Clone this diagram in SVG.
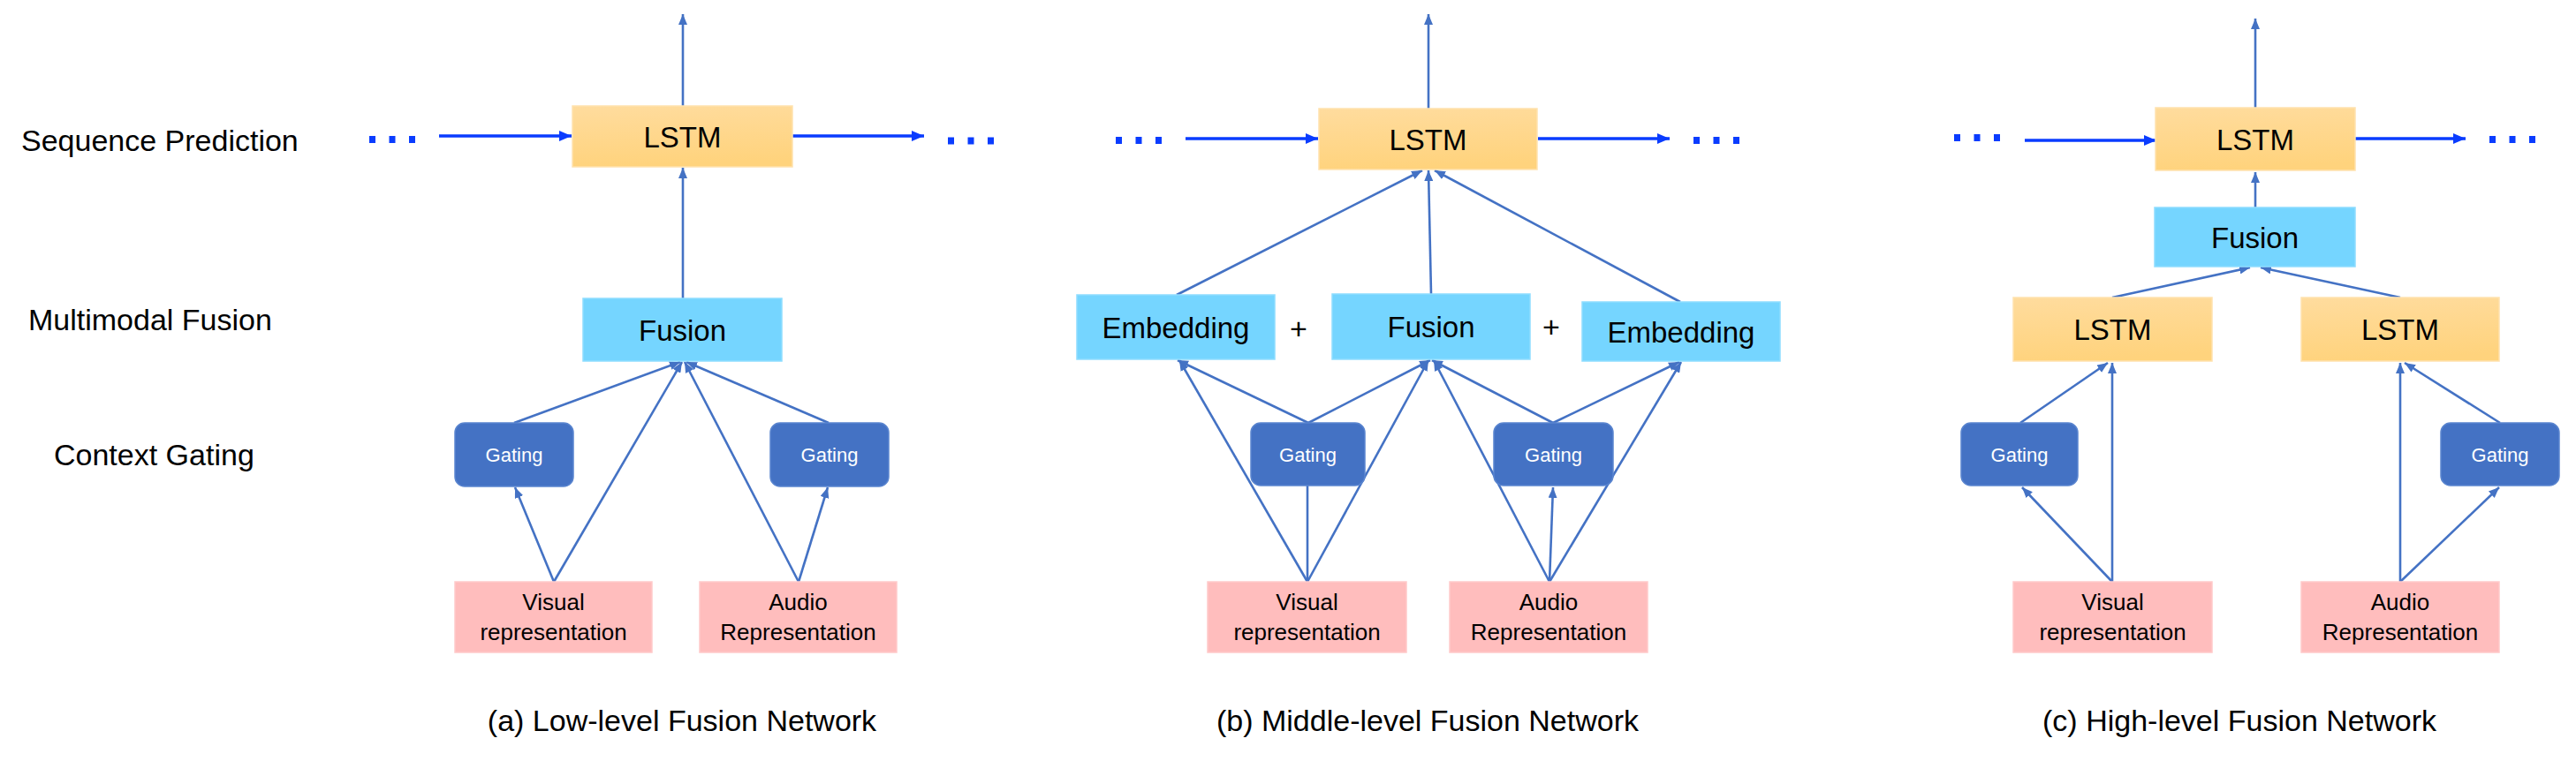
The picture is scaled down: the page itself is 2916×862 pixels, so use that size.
<svg xmlns="http://www.w3.org/2000/svg" width="2916" height="862" viewBox="0 0 2916 862">
<defs>
<linearGradient id="gl" x1="0" y1="0" x2="0.15" y2="1">
<stop offset="0" stop-color="#FFDC9E"/>
<stop offset="1" stop-color="#FFD37D"/>
</linearGradient>
<marker id="ah" viewBox="0 0 12 10" refX="12" refY="5" markerWidth="12" markerHeight="10" markerUnits="userSpaceOnUse" orient="auto">
<path d="M0,0 L12,5 L0,10 z" fill="#4472C4"/>
</marker>
<marker id="ahb" viewBox="0 0 14 12" refX="14" refY="6" markerWidth="14" markerHeight="12" markerUnits="userSpaceOnUse" orient="auto">
<path d="M0,0 L14,6 L0,12 z" fill="#0A3CFF"/>
</marker>
</defs>
<style>
text{font-family:"Liberation Sans",Arial,sans-serif;fill:#000}
.lbl{font-size:34px}
.cap{font-size:34px;text-anchor:middle}
.nt{font-size:33px;text-anchor:middle}
.gt{font-size:22px;text-anchor:middle;fill:#fff}
.rt{font-size:26px;text-anchor:middle}
.lstm{fill:url(#gl);stroke:#FFE2AE;stroke-width:1.5}
.fus{fill:#75D5FF;stroke:#8FDDFF;stroke-width:1.5}
.gate{fill:#4472C4;stroke:#5A85CF;stroke-width:1.5}
.rep{fill:#FFBDBD;stroke:#FFCACA;stroke-width:1.5}
.c{fill:none;stroke:#4472C4;stroke-width:2.6}
.ca{fill:none;stroke:#4472C4;stroke-width:2.6;marker-end:url(#ah)}
.sa{fill:none;stroke:#0A3CFF;stroke-width:3.6;marker-end:url(#ahb)}
.dots{fill:none;stroke:#0A3CFF;stroke-width:8;stroke-dasharray:7 15.5}
</style>
<rect width="2916" height="862" fill="#fff"/>

<g id="labels">
<text class="lbl" x="24" y="171">Sequence Prediction</text>
<text class="lbl" x="32" y="374">Multimodal Fusion</text>
<text class="lbl" x="61" y="527">Context Gating</text>
</g>

<g id="captions">
<text class="cap" x="772" y="828">(a) Low-level Fusion Network</text>
<text class="cap" x="1616" y="828">(b) Middle-level Fusion Network</text>
<text class="cap" x="2535" y="828">(c) High-level Fusion Network</text>
</g>

<g id="ellipses">
<line class="dots" x1="418" y1="158" x2="470" y2="158"/>
<line class="dots" x1="1073" y1="159.5" x2="1125" y2="159.5"/>
<line class="dots" x1="1263" y1="159" x2="1315" y2="159"/>
<line class="dots" x1="1917" y1="159" x2="1969" y2="159"/>
<line class="dots" x1="2212" y1="156" x2="2264" y2="156"/>
<line class="dots" x1="2818" y1="158" x2="2870" y2="158"/>
</g>

<g id="connectors">
<!-- sequence arrows -->
<path class="sa" d="M497,154 L647,154"/>
<path class="sa" d="M897,154 L1046,154"/>
<path class="sa" d="M1342,157 L1492,157"/>
<path class="sa" d="M1741,157 L1890,157"/>
<path class="sa" d="M2292,159 L2441,159"/>
<path class="sa" d="M2666,157 L2791,157"/>
<!-- outputs -->
<path class="ca" d="M773,120 L773,16"/>
<path class="ca" d="M1617,123 L1617,16"/>
<path class="ca" d="M2553,122 L2553,21"/>
<!-- panel a -->
<path class="ca" d="M773,338 L773,190"/>
<path class="ca" d="M582,479 L770,410"/>
<path class="ca" d="M627,659 L772,410"/>
<path class="ca" d="M627,659 L583,552"/>
<path class="ca" d="M904,659 L775,410"/>
<path class="ca" d="M904,659 L937,552"/>
<path class="ca" d="M938,479 L777,410"/>
<!-- panel b -->
<path class="ca" d="M1332,334 L1610,193"/>
<path class="ca" d="M1620,333 L1617,193"/>
<path class="ca" d="M1902,342 L1624,193"/>
<path class="ca" d="M1480,659 L1335,408"/>
<path class="c" d="M1480,659 L1480,550"/>
<path class="ca" d="M1480,659 L1617,408"/>
<path class="ca" d="M1481,479 L1333,408"/>
<path class="ca" d="M1481,479 L1619,408"/>
<path class="ca" d="M1754,659 L1623,408"/>
<path class="ca" d="M1754,659 L1758,552"/>
<path class="ca" d="M1754,659 L1903,410"/>
<path class="ca" d="M1758,479 L1621,408"/>
<path class="ca" d="M1758,479 L1901,410"/>
<!-- panel c -->
<path class="ca" d="M2553,235 L2553,195"/>
<path class="ca" d="M2391,337 L2547,303"/>
<path class="ca" d="M2717,337 L2559,303"/>
<path class="ca" d="M2391,659 L2391,411"/>
<path class="ca" d="M2391,659 L2289,552"/>
<path class="ca" d="M2287,479 L2386,411"/>
<path class="ca" d="M2717,659 L2717,411"/>
<path class="ca" d="M2717,659 L2829,552"/>
<path class="ca" d="M2830,479 L2722,411"/>
</g>

<!-- panel a nodes -->
<g id="a-lstm"><rect class="lstm" x="648" y="120" width="249" height="69"/><text class="nt" x="772.5" y="166.5">LSTM</text></g>
<g id="a-fusion"><rect class="fus" x="660" y="338" width="225" height="71"/><text class="nt" x="772.5" y="385.5">Fusion</text></g>
<g id="a-gating-v"><rect class="gate" x="515" y="479" width="134" height="72" rx="11"/><text class="gt" x="582" y="523">Gating</text></g>
<g id="a-gating-a"><rect class="gate" x="872" y="479" width="134" height="72" rx="11"/><text class="gt" x="939" y="523">Gating</text></g>
<g id="a-visual"><rect class="rep" x="515" y="659" width="223" height="80"/><text class="rt" x="626.5" y="691">Visual</text><text class="rt" x="626.5" y="725">representation</text></g>
<g id="a-audio"><rect class="rep" x="792" y="659" width="223" height="80"/><text class="rt" x="903.5" y="691">Audio</text><text class="rt" x="903.5" y="725">Representation</text></g>

<!-- panel b nodes -->
<g id="b-lstm"><rect class="lstm" x="1493" y="123" width="247" height="69"/><text class="nt" x="1616.5" y="169.5">LSTM</text></g>
<g id="b-emb-v"><rect class="fus" x="1219" y="334" width="224" height="73"/><text class="nt" x="1331" y="382.5">Embedding</text></g>
<g id="b-plus1"><text class="cap" x="1470" y="384">+</text></g>
<g id="b-fusion"><rect class="fus" x="1508" y="333" width="224" height="74"/><text class="nt" x="1620" y="382">Fusion</text></g>
<g id="b-plus2"><text class="cap" x="1756" y="382">+</text></g>
<g id="b-emb-a"><rect class="fus" x="1791" y="342" width="224" height="67"/><text class="nt" x="1903" y="387.5">Embedding</text></g>
<g id="b-gating-v"><rect class="gate" x="1416" y="479" width="129" height="71" rx="11"/><text class="gt" x="1480.5" y="523">Gating</text></g>
<g id="b-gating-a"><rect class="gate" x="1691" y="479" width="135" height="71" rx="11"/><text class="gt" x="1758.5" y="523">Gating</text></g>
<g id="b-visual"><rect class="rep" x="1367" y="659" width="225" height="80"/><text class="rt" x="1479.5" y="691">Visual</text><text class="rt" x="1479.5" y="725">representation</text></g>
<g id="b-audio"><rect class="rep" x="1641" y="659" width="224" height="80"/><text class="rt" x="1753" y="691">Audio</text><text class="rt" x="1753" y="725">Representation</text></g>

<!-- panel c nodes -->
<g id="c-lstm"><rect class="lstm" x="2440" y="122" width="226" height="71"/><text class="nt" x="2553" y="169.5">LSTM</text></g>
<g id="c-fusion"><rect class="fus" x="2439" y="235" width="227" height="67"/><text class="nt" x="2552.5" y="280.5">Fusion</text></g>
<g id="c-lstm-v"><rect class="lstm" x="2279" y="337" width="225" height="72"/><text class="nt" x="2391.5" y="385">LSTM</text></g>
<g id="c-lstm-a"><rect class="lstm" x="2605" y="337" width="224" height="72"/><text class="nt" x="2717" y="385">LSTM</text></g>
<g id="c-gating-v"><rect class="gate" x="2220" y="479" width="132" height="71" rx="11"/><text class="gt" x="2286" y="523">Gating</text></g>
<g id="c-gating-a"><rect class="gate" x="2763" y="479" width="134" height="71" rx="11"/><text class="gt" x="2830" y="523">Gating</text></g>
<g id="c-visual"><rect class="rep" x="2279" y="659" width="225" height="80"/><text class="rt" x="2391.5" y="691">Visual</text><text class="rt" x="2391.5" y="725">representation</text></g>
<g id="c-audio"><rect class="rep" x="2605" y="659" width="224" height="80"/><text class="rt" x="2717" y="691">Audio</text><text class="rt" x="2717" y="725">Representation</text></g>
</svg>
